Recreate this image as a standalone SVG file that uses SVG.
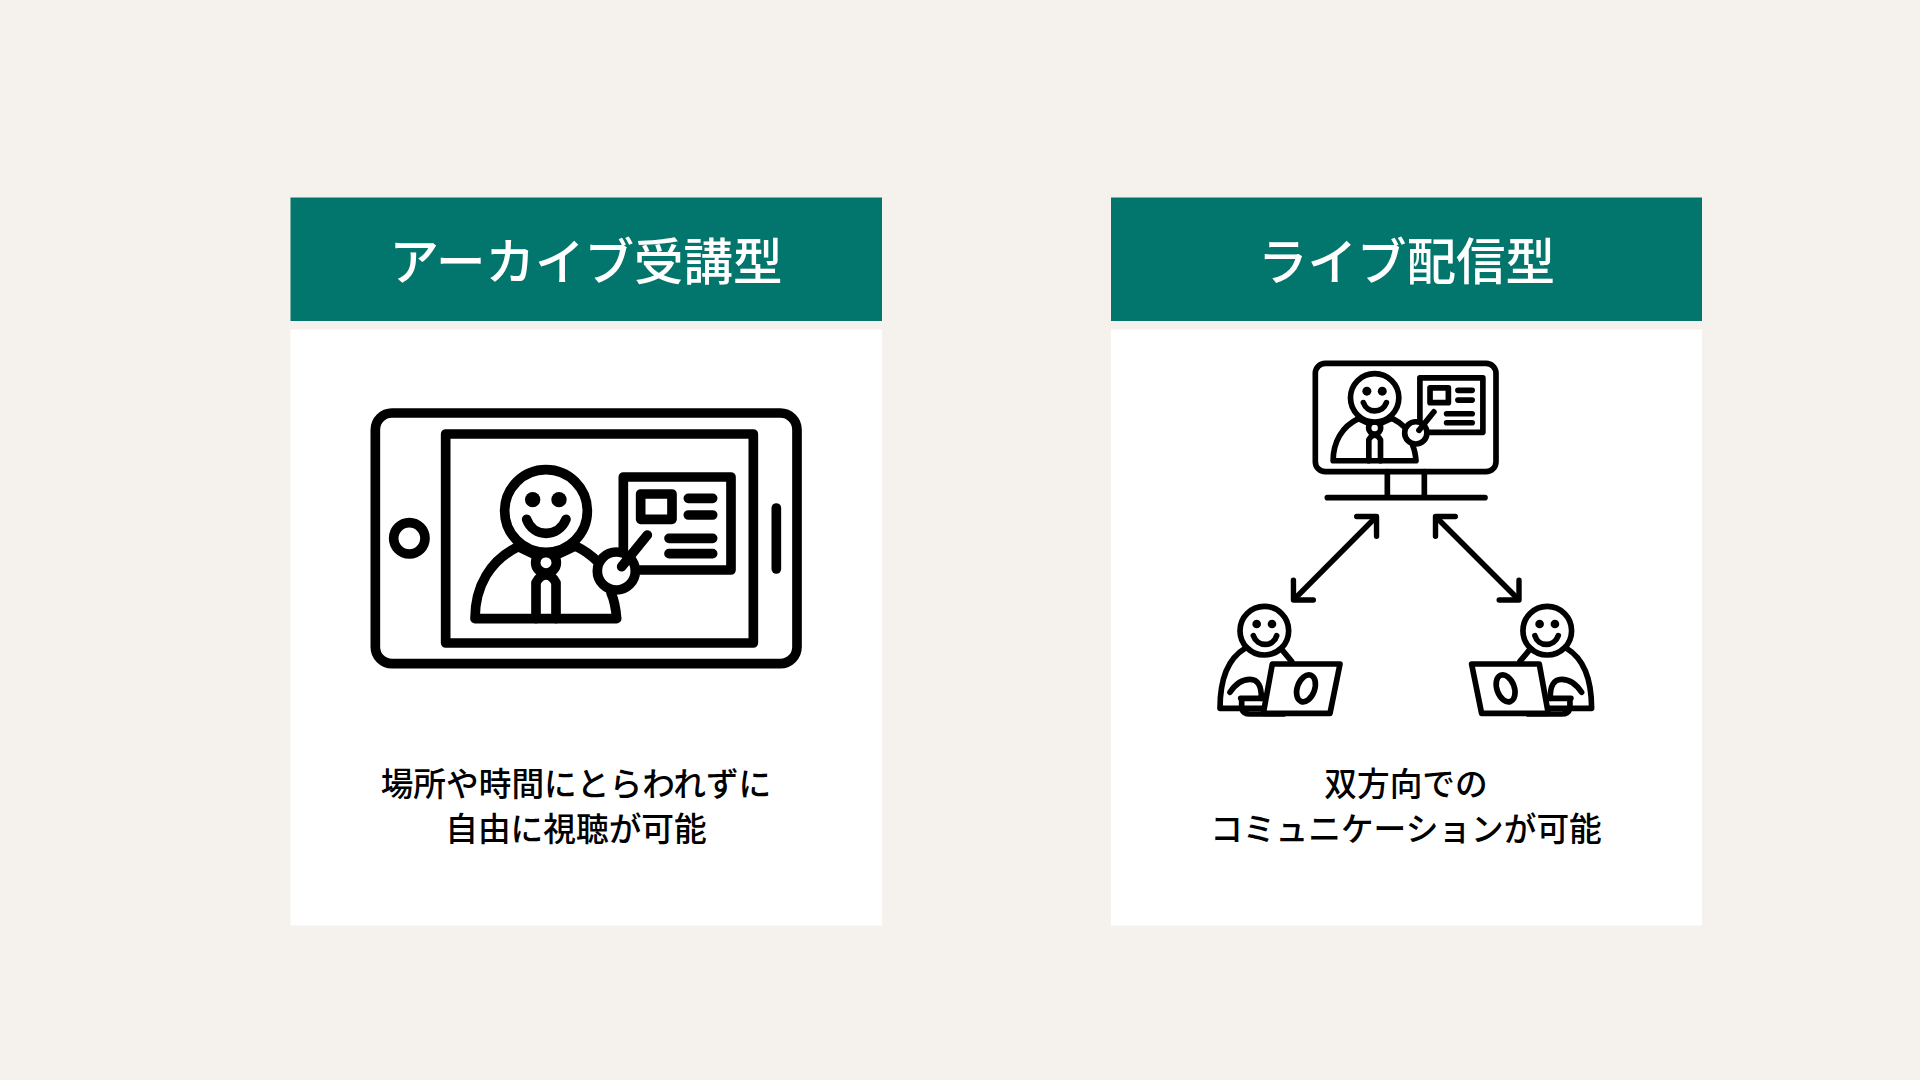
<svg xmlns="http://www.w3.org/2000/svg" xmlns:xlink="http://www.w3.org/1999/xlink" width="1920" height="1080" viewBox="0 0 1920 1080">
<style>
.hd{fill:#02766c}
.cd{fill:#fff}
.ti{font-family:"Noto Sans CJK JP","Noto Sans",sans-serif;font-size:49.5px;font-weight:500;fill:#fff;text-anchor:middle}
.bd{font-family:"Noto Sans CJK JP","Noto Sans",sans-serif;font-size:32.7px;font-weight:500;fill:#000;text-anchor:middle}
.ln{fill:none;stroke:#000;stroke-linecap:round;stroke-linejoin:round}
.wf{fill:#fff;stroke:#000;stroke-linecap:round;stroke-linejoin:round}
.dot{fill:#000}
</style>
<defs>
<g id="presenter">
<g class="ln" stroke-width="29">
<rect x="820" y="261" width="323" height="279" class="wf" stroke-width="29"/>
<rect x="872" y="312" width="94" height="76"/>
<path d="M1015 325H1088M1015 375H1088M957 445H1088M957 491H1088"/>
<path d="M505 470C420 510 375 590 375 686H800C798 660 795 635 783 608"/>
<path d="M680 470C705 482 725 497 745 517"/>
<path d="M505 470L552 492M672 470L624 492"/>
<path d="M558 686V578Q570 555 588 555Q606 555 618 578V686"/>
<circle cx="588" cy="518" r="31"/>
<circle cx="588" cy="363" r="124" class="wf" stroke-width="29"/>
<path d="M530 388C550 444 626 444 648 388"/>
<circle cx="799" cy="543" r="57" class="wf" stroke-width="29"/>
<path d="M815 530L892 435"/>
</g>
<circle class="dot" cx="548" cy="329" r="23"/>
<circle class="dot" cx="627" cy="329" r="23"/>
</g>
<g id="learner">
<g class="ln" stroke-width="17">
<path d="M135 175C85 205 60 265 60 355H200"/>
<path d="M245 178L275 214"/>
<circle cx="193" cy="122" r="73" class="wf" stroke-width="17"/>
<path d="M160 137C172 172 220 172 230 137"/>
<path d="M90 307Q115 268 150 268Q185 268 184 325"/>
<path d="M122 325H190M125 325V355Q130 372 150 372H250"/>
<path d="M217 222H420L390 370H190Z" class="wf" stroke-width="17"/>
<ellipse cx="318" cy="295" rx="26" ry="42" transform="rotate(20 318 295)"/>
</g>
<circle class="dot" cx="170" cy="102" r="13"/>
<circle class="dot" cx="216" cy="102" r="13"/>
</g>
<marker id="ah" markerUnits="userSpaceOnUse" markerWidth="40" markerHeight="40" refX="20" refY="20" viewBox="0 0 40 40" orient="auto-start-reverse">
<path d="M6 6L20 20L6 34" fill="none" stroke="#000" stroke-width="5.4" stroke-linecap="round" stroke-linejoin="round"/>
</marker>
</defs>
<rect width="1920" height="1080" fill="#f5f2ed"/>
<g id="card-archive">
<rect class="cd" x="290.5" y="329.5" width="591.5" height="596"/>
<rect class="hd" x="290.5" y="197.5" width="591.5" height="123.5"/>
<text class="ti" x="586" y="280">アーカイブ受講型</text>
<g transform="translate(350 390) scale(.33333)">
<rect x="76" y="69" width="1265" height="752" rx="50" class="ln" stroke-width="29"/>
<circle cx="178" cy="445" r="47" class="ln" stroke-width="29"/>
<path d="M1279 354V537" class="ln" stroke-width="29"/>
<rect x="287" y="132" width="923" height="627" class="ln" stroke-width="29"/>
<use href="#presenter" xlink:href="#presenter"/>
</g>
<text class="bd" x="576" y="796">場所や時間にとらわれずに</text>
<text class="bd" x="576" y="841">自由に視聴が可能</text>
</g>
<g id="card-live">
<rect class="cd" x="1111" y="329.5" width="591" height="596"/>
<rect class="hd" x="1111" y="197.5" width="591" height="123.5"/>
<text class="ti" x="1406.5" y="280">ライブ配信型</text>
<g id="monitor" transform="translate(1290 350) scale(.33333)">
<rect x="76" y="40" width="542" height="325" rx="30" class="ln" stroke-width="17"/>
<path d="M292 365V443M403 365V443M112 443H585" class="ln" stroke-width="17"/>
<g transform="translate(-90 -69) scale(.585)"><use href="#presenter" xlink:href="#presenter"/></g>
</g>
<g id="learner-left" transform="translate(1200 590) scale(.33333)"><use href="#learner" xlink:href="#learner"/></g>
<g id="learner-right" transform="translate(1611.6 590) scale(-.33333 .33333)"><use href="#learner" xlink:href="#learner"/></g>
<text class="bd" x="1406" y="796">双方向での</text>
<text class="bd" x="1406" y="841">コミュニケーションが可能</text>
</g>
<g id="connectors">
<path d="M1376.5 516.5L1293.5 600" fill="none" stroke="#000" stroke-width="5.4" marker-start="url(#ah)" marker-end="url(#ah)"/>
<path d="M1435.5 516.5L1519 600" fill="none" stroke="#000" stroke-width="5.4" marker-start="url(#ah)" marker-end="url(#ah)"/>
</g>
</svg>
